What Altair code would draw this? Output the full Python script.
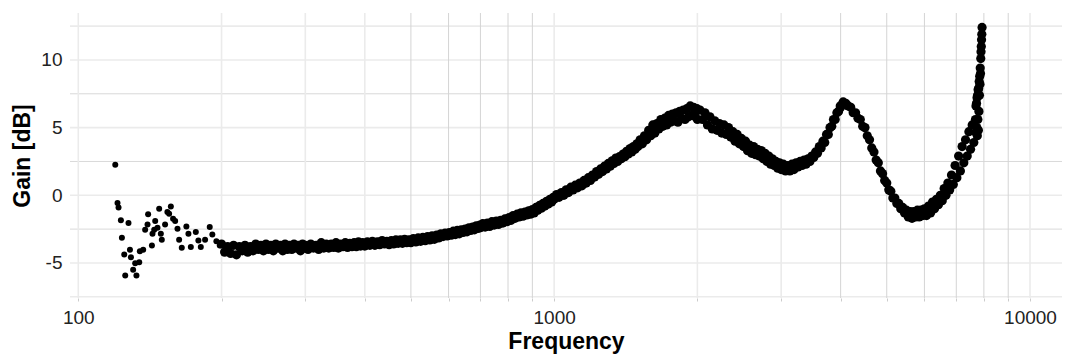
import altair as alt
import pandas as pd

# ---- sparse low-frequency points (Hz, dB) ----
SCATTER_FREQ = [119.6, 120.9, 121.5, 122.9, 127.5, 123.5, 124.9, 128.4, 129.0, 125.5,
                132.5, 130.4, 131.7, 134.3, 134.7, 136.9, 138.2, 140.2, 139.8, 142.8,
                143.2, 144.4, 145.1, 147.9, 146.7, 149.1, 149.8, 152.2, 153.9, 156.5,
                155.2, 158.2, 159.8, 161.6, 162.9, 165.0, 168.7, 170.4, 172.4, 176.6,
                178.8, 180.9, 184.7, 188.9, 191.3, 195.1, 198.3]
SCATTER_GAIN = [2.25, -0.57, -0.91, -1.85, -2.05, -3.14, -4.38, -4.03, -4.57, -5.93,
                -5.93, -5.51, -5.02, -4.95, -4.13, -4.03, -2.55, -1.41, -2.15, -3.71,
                -2.84, -2.55, -1.90, -0.99, -2.40, -2.84, -3.29, -2.15, -1.24, -0.82,
                -1.36, -1.73, -1.90, -2.47, -3.29, -3.88, -2.30, -2.84, -3.83, -2.72,
                -3.34, -3.83, -3.29, -2.35, -2.89, -3.39, -3.71]

# ---- dense band, (Hz, dB) ----
SEG_200_500 = [
    (200, -3.6), (203, -4.2), (206, -3.8), (209, -4.3), (212, -3.7), (215, -4.4), (218, -3.8),
    (221, -4.1), (224, -3.7), (227, -4.2), (230, -3.8), (233, -4.1), (236, -3.6), (239, -4.0),
    (242, -3.7), (245, -4.1), (248, -3.6), (251, -4.0), (254, -3.7), (257, -4.1), (260, -3.6),
    (263, -3.9), (266, -3.7), (269, -4.1), (272, -3.6), (275, -4.0), (278, -3.7), (281, -4.0),
    (284, -3.6), (287, -3.9), (290, -3.7), (293, -4.1), (296, -3.6), (299, -3.9),
    (300, -3.7), (304, -4.0), (308, -3.6), (312, -3.9), (316, -3.7), (320, -4.0), (324, -3.5),
    (328, -3.9), (332, -3.6), (336, -3.9), (340, -3.6), (344, -3.85), (348, -3.5), (352, -3.9),
    (356, -3.6), (360, -3.8), (364, -3.5), (368, -3.85), (372, -3.55), (376, -3.8), (380, -3.5),
    (384, -3.8), (388, -3.45), (392, -3.75), (396, -3.5),
    (400, -3.75), (405, -3.45), (410, -3.7), (415, -3.4), (420, -3.7), (425, -3.45), (430, -3.65),
    (435, -3.35), (440, -3.6), (445, -3.4), (450, -3.65), (455, -3.35), (460, -3.6), (465, -3.3),
    (470, -3.55), (475, -3.3), (480, -3.55), (485, -3.25), (490, -3.5), (495, -3.3),
]
SEG_500_1000 = [
    (500, -3.5), (506, -3.2), (512, -3.45), (518, -3.15), (524, -3.4), (530, -3.1), (536, -3.35),
    (542, -3.05), (548, -3.3), (554, -3.0), (560, -3.25), (566, -2.95), (572, -3.15), (578, -2.85),
    (584, -3.05), (590, -2.8), (596, -3.0), (602, -2.75), (608, -2.95), (614, -2.65), (620, -2.9),
    (626, -2.6), (632, -2.85), (638, -2.55), (644, -2.75), (650, -2.5), (656, -2.7), (662, -2.4),
    (668, -2.6), (674, -2.35), (680, -2.55), (686, -2.25), (692, -2.45), (698, -2.2),
    (700, -2.4), (708, -2.1), (716, -2.35), (724, -2.05), (732, -2.3), (740, -1.95), (748, -2.2),
    (756, -1.9), (764, -2.15), (772, -1.85), (780, -2.05), (788, -1.75), (796, -1.95), (804, -1.65),
    (812, -1.85), (820, -1.5), (828, -1.7), (836, -1.4), (844, -1.6), (852, -1.3), (860, -1.55),
    (868, -1.25), (876, -1.45), (884, -1.15), (892, -1.4), (900, -1.05), (908, -1.3), (916, -0.9),
    (924, -1.1), (932, -0.75), (940, -0.95), (948, -0.6), (956, -0.8), (964, -0.45), (972, -0.65),
    (980, -0.3), (988, -0.5), (996, -0.15),
]
SEG_1000_2000 = [
    (1000, -0.3), (1012, 0.05), (1024, -0.15), (1036, 0.2), (1048, 0.0), (1060, 0.4), (1072, 0.2),
    (1084, 0.6), (1096, 0.4), (1108, 0.75), (1120, 0.55), (1132, 0.9), (1144, 0.7), (1156, 1.1),
    (1168, 0.9), (1180, 1.3), (1192, 1.1), (1204, 1.5), (1216, 1.35), (1228, 1.75), (1240, 1.55),
    (1252, 1.95), (1264, 1.75), (1276, 2.15), (1288, 1.95), (1300, 2.35), (1312, 2.15), (1324, 2.55),
    (1336, 2.35), (1348, 2.75), (1360, 2.5), (1372, 2.85), (1384, 2.7), (1396, 3.05), (1408, 2.85),
    (1420, 3.25), (1432, 3.05), (1444, 3.45), (1456, 3.2), (1468, 3.6), (1480, 3.4), (1492, 3.8),
    (1500, 3.6), (1516, 4.1), (1532, 3.8), (1548, 4.4), (1564, 4.1), (1580, 4.8), (1596, 4.4),
    (1612, 5.2), (1628, 4.6), (1644, 5.3), (1660, 4.9), (1676, 5.6), (1692, 5.1), (1708, 5.7),
    (1724, 5.2), (1740, 5.9), (1756, 5.4), (1772, 6.0), (1788, 5.5), (1804, 6.1), (1820, 5.4),
    (1836, 6.2), (1852, 5.7), (1868, 6.3), (1884, 5.6), (1900, 6.4), (1916, 5.8), (1932, 6.6),
    (1948, 5.9), (1964, 6.5), (1980, 5.8), (1996, 6.4),
]
SEG_2000_4000 = [
    (2000, 5.6), (2025, 6.3), (2050, 5.6), (2075, 6.1), (2100, 5.2), (2125, 5.8), (2150, 4.9),
    (2175, 5.5), (2200, 4.8), (2225, 5.3), (2250, 4.6), (2275, 5.2), (2300, 4.5), (2325, 5.0),
    (2350, 4.3), (2375, 4.7), (2400, 4.0), (2425, 4.5), (2450, 3.8), (2475, 4.2), (2500, 3.6),
    (2525, 4.0), (2550, 3.3), (2575, 3.7), (2600, 3.1), (2625, 3.6), (2650, 3.0), (2675, 3.4),
    (2700, 2.9), (2725, 3.3), (2750, 2.7), (2775, 3.1), (2800, 2.5), (2825, 2.9), (2850, 2.3),
    (2875, 2.7), (2900, 2.2), (2925, 2.5), (2950, 2.0), (2975, 2.4),
    (3000, 1.9), (3032, 2.3), (3064, 1.8), (3096, 2.2), (3128, 1.8), (3160, 2.3), (3192, 1.9),
    (3224, 2.4), (3256, 2.1), (3288, 2.5), (3320, 2.2), (3352, 2.6), (3384, 2.3), (3416, 2.7),
    (3448, 2.5), (3480, 2.9), (3512, 2.8), (3544, 3.2), (3576, 3.1), (3608, 3.6), (3640, 3.5),
    (3672, 4.0), (3704, 3.9), (3736, 4.5), (3768, 4.5), (3800, 5.0), (3832, 5.1), (3864, 5.6),
    (3896, 5.6), (3928, 6.1), (3960, 6.2), (3992, 6.6),
]
SEG_4000_8000 = [
    (4000, 6.5), (4050, 6.9), (4100, 6.8), (4150, 6.6), (4200, 6.5), (4250, 6.1), (4300, 6.1),
    (4350, 5.7), (4400, 5.6), (4450, 5.1), (4500, 5.0), (4550, 4.4), (4600, 4.1), (4650, 3.5),
    (4700, 3.2), (4750, 2.6), (4800, 2.4), (4850, 1.8), (4900, 1.6), (4950, 1.1), (5000, 0.9),
    (5050, 0.4), (5100, 0.3), (5150, -0.2), (5200, -0.2), (5250, -0.6), (5300, -0.6), (5350, -1.0),
    (5400, -0.9), (5450, -1.3), (5500, -1.1), (5550, -1.6), (5600, -1.2), (5650, -1.7), (5700, -1.2),
    (5750, -1.6), (5800, -1.1), (5850, -1.6), (5900, -1.1), (5950, -1.5),
    (6000, -1.0), (6060, -1.5), (6120, -0.8), (6180, -1.3), (6240, -0.5), (6300, -1.0), (6360, -0.3),
    (6420, -0.7), (6480, 0.0), (6540, -0.4), (6600, 0.5), (6660, 0.0), (6720, 0.9), (6780, 0.4),
    (6840, 1.5), (6900, 0.8), (6960, 2.2), (7020, 1.3), (7080, 2.9), (7140, 1.8), (7200, 3.6),
    (7260, 2.4), (7320, 4.1), (7380, 2.9), (7440, 4.7), (7500, 3.4), (7560, 5.2), (7620, 3.9),
    (7680, 5.6),
    (7700, 6.6), (7710, 4.6), (7720, 6.8), (7730, 5.0), (7740, 7.2), (7750, 4.4), (7760, 7.4),
    (7770, 5.6), (7780, 7.8), (7790, 4.8), (7800, 7.9), (7810, 6.2), (7820, 8.4), (7830, 7.4),
    (7840, 8.8), (7850, 8.2), (7860, 9.4), (7870, 9.0), (7880, 10.1), (7890, 10.6), (7900, 11.0),
    (7910, 11.5), (7920, 11.9), (7930, 12.4),
]

# ---- grid / tick positions ----
X_GRID_LIGHT = [100, 200, 300, 400, 1000, 2000, 3000, 10000]
X_GRID_DARK = [500, 600, 700, 800, 900, 4000, 5000, 6000, 7000, 8000, 9000]
Y_GRID_LIGHT = [-7.5, -5, 0, 5, 10, 12.5]
Y_GRID_DARK = [-2.5, 2.5, 7.5]
X_LABELS = [100, 1000, 10000]
Y_LABELS = [-5, 0, 5, 10]
X_DOMAIN = [96.07, 11675]
Y_DOMAIN = [-7.59, 13.47]

FONT = "Liberation Sans"

band = SEG_200_500 + SEG_500_1000 + SEG_1000_2000 + SEG_2000_4000 + SEG_4000_8000
sparse_df = pd.DataFrame({"Frequency": SCATTER_FREQ, "Gain": SCATTER_GAIN})
band_df = pd.DataFrame({"Frequency": [p[0] for p in band], "Gain": [p[1] for p in band]})

xs = alt.Scale(type="log", domain=X_DOMAIN, nice=False)
ys = alt.Scale(domain=Y_DOMAIN, nice=False, zero=False)

lbl_expr_x = ("indexof([" + ",".join(str(v) for v in X_LABELS) +
              "], datum.value) >= 0 ? '' + datum.value : ''")

x_axis = alt.Axis(values=X_GRID_LIGHT + X_GRID_DARK, labelExpr=lbl_expr_x, grid=False,
                  domain=False, ticks=True, tickSize=3, tickColor="#cccccc",
                  labelFontSize=19, labelFont=FONT, labelColor="#222222", labelPadding=7,
                  labelOverlap=False, labelFlush=False,
                  title="Frequency", titleFont=FONT, titleFontSize=23,
                  titleFontWeight="bold", titleColor="black", titlePadding=3)
y_axis = alt.Axis(values=Y_LABELS, labelExpr="'' + datum.value", grid=False, domain=False,
                  ticks=False, labelFontSize=19, labelFont=FONT, labelColor="#222222",
                  labelPadding=8, title="Gain [dB]", titleFont=FONT, titleFontSize=23,
                  titleFontWeight="bold", titleColor="black", titlePadding=6)

X = lambda field: alt.X(field, scale=xs, axis=x_axis, title="Frequency")
Y = lambda field: alt.Y(field, scale=ys, axis=y_axis, title="Gain [dB]")


def vrules(vals, color, w):
    return alt.Chart(pd.DataFrame({"Frequency": vals})).mark_rule(
        color=color, strokeWidth=w).encode(x=X("Frequency:Q"))


def hrules(vals, color, w):
    return alt.Chart(pd.DataFrame({"Gain": vals})).mark_rule(
        color=color, strokeWidth=w).encode(y=Y("Gain:Q"))


sparse = alt.Chart(sparse_df).mark_circle(size=36, color="black", opacity=1).encode(
    x=X("Frequency:Q"), y=Y("Gain:Q"))
dense = alt.Chart(band_df).mark_circle(size=85, color="black", opacity=1).encode(
    x=X("Frequency:Q"), y=Y("Gain:Q"))

chart = alt.layer(
    hrules(Y_GRID_LIGHT, "#ebebeb", 1.6),
    hrules(Y_GRID_DARK, "#d9d9d9", 1),
    vrules(X_GRID_LIGHT, "#ebebeb", 1.6),
    vrules(X_GRID_DARK, "#d4d4d4", 1),
    sparse,
    dense,
).properties(
    width=992, height=285,
    padding={"left": 62, "top": 5, "right": 0, "bottom": 61},
    autosize=alt.AutoSizeParams(type="none"),
    background="white",
).configure_view(stroke=None)

chart.save("out.html", embed_options={"renderer": "svg", "actions": False})
